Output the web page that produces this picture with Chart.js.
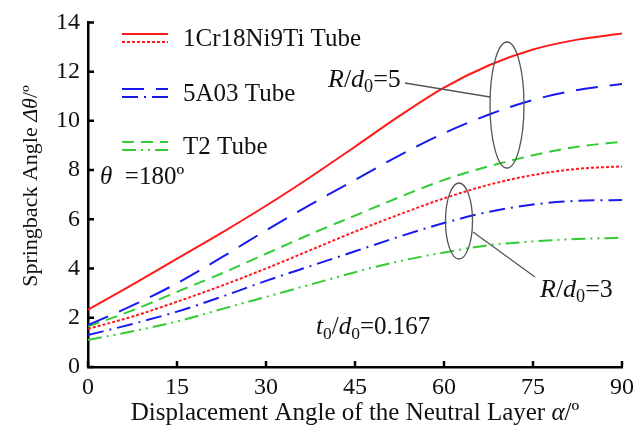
<!DOCTYPE html>
<html>
<head>
<meta charset="utf-8">
<script src="https://cdn.jsdelivr.net/npm/chart.js@4"></script>
<style>
  html, body { margin: 0; padding: 0; background: #fff; }
  #wrap { width: 640px; height: 434px; }
</style>
</head>
<body>
<div id="wrap"><canvas id="springChart" width="640" height="434"></canvas></div>
<script>
const ctx = document.getElementById('springChart').getContext('2d');

// x values (displacement angle of neutral layer, deg)
const alphaDeg = [0, 7.5, 15, 22.5, 30, 37.5, 45, 52.5, 60, 67.5, 75, 82.5, 90];

// R/d0 = 5
const crTube5 = [2.33, 3.35, 4.4, 5.45, 6.55, 7.72, 8.95, 10.2, 11.35, 12.25, 12.9, 13.3, 13.55];
const alTube5 = [1.7, 2.5, 3.4, 4.45, 5.55, 6.6, 7.6, 8.6, 9.5, 10.25, 10.85, 11.25, 11.5];
const cuTube5 = [1.65, 2.3, 3.05, 3.8, 4.6, 5.4, 6.15, 6.9, 7.6, 8.15, 8.6, 8.95, 9.15];

// R/d0 = 3
const crTube3 = [1.55, 2.05, 2.65, 3.3, 4.0, 4.75, 5.5, 6.2, 6.85, 7.4, 7.8, 8.05, 8.15];
const alTube3 = [1.3, 1.75, 2.25, 2.85, 3.5, 4.1, 4.7, 5.3, 5.85, 6.3, 6.6, 6.75, 6.78];
const cuTube3 = [1.1, 1.45, 1.85, 2.35, 2.85, 3.35, 3.85, 4.3, 4.65, 4.95, 5.1, 5.2, 5.25];

const xTicks = [0, 15, 30, 45, 60, 75, 90];
const yTicks = [0, 2, 4, 6, 8, 10, 12, 14];

const RED = '#ff1a1a';
const BLUE = '#1a1aee';
const GREEN = '#33cc33';
const SERIF = '"Liberation Serif", "Times New Roman", serif';

const dashes = {
  crTube5: [],
  crTube3: [3, 2],
  alTube5: [22, 12],
  alTube3: [16, 6, 2, 6],
  cuTube5: [12, 7],
  cuTube3: [14, 5, 2, 5, 2, 5]
};

function series(label, values, color, dash) {
  return {
    label: label,
    data: values.map((v, i) => ({ x: alphaDeg[i], y: v })),
    borderColor: color,
    borderWidth: 2,
    borderDash: dash,
    pointRadius: 0,
    fill: false,
    cubicInterpolationMode: 'monotone'
  };
}

function font(size, italic) {
  return (italic ? 'italic ' : '') + size + 'px ' + SERIF;
}

// text with italic parts and subscripts
function richText(c, parts, x, y, size, align) {
  let w = 0;
  parts.forEach(p => {
    const s = p.sub ? size * 0.7 : size;
    c.font = font(s, p.it);
    w += c.measureText(p.t).width;
  });
  let cx = align === 'center' ? x - w / 2 : x;
  c.textAlign = 'left';
  c.textBaseline = 'middle';
  parts.forEach(p => {
    const s = p.sub ? size * 0.7 : size;
    c.font = font(s, p.it);
    c.fillText(p.t, cx, p.sub ? y + size * 0.28 : y);
    cx += c.measureText(p.t).width;
  });
}

const decorations = {
  id: 'decorations',
  afterDraw(chart) {
    const c = chart.ctx;
    const xs = chart.scales.x, ys = chart.scales.y;
    const area = chart.chartArea;
    c.save();

    // inward tick marks
    c.strokeStyle = '#000';
    c.lineWidth = 2.5;
    c.beginPath();
    xTicks.forEach(v => {
      const p = xs.getPixelForValue(v);
      c.moveTo(p, area.bottom);
      c.lineTo(p, area.bottom - 6);
    });
    yTicks.forEach(v => {
      const p = ys.getPixelForValue(v);
      c.moveTo(area.left, p);
      c.lineTo(area.left + 6, p);
    });
    c.stroke();

    c.fillStyle = '#111';
    // axis titles
    richText(c, [{ t: 'Displacement Angle of the Neutral Layer ' }, { t: 'α', it: true }, { t: '/º' }],
      (area.left + area.right) / 2, 413, 25, 'center');
    c.save();
    c.translate(31, 186);
    c.rotate(-Math.PI / 2);
    richText(c, [{ t: 'Springback Angle ' }, { t: 'Δθ', it: true }, { t: '/º' }], 0, 0, 22, 'center');
    c.restore();

    // legend: two line samples per material
    const legend = [
      { text: '1Cr18Ni9Ti Tube', color: RED, a: dashes.crTube5, b: dashes.crTube3, y: 34 },
      { text: '5A03 Tube', color: BLUE, a: dashes.alTube5, b: dashes.alTube3, y: 89 },
      { text: 'T2 Tube', color: GREEN, a: dashes.cuTube5, b: dashes.cuTube3, y: 142 }
    ];
    legend.forEach(e => {
      c.strokeStyle = e.color;
      c.lineWidth = 2;
      [[e.a, e.y], [e.b, e.y + 8]].forEach(([d, y]) => {
        c.setLineDash(d);
        c.beginPath();
        c.moveTo(122, y);
        c.lineTo(168, y);
        c.stroke();
      });
      c.setLineDash([]);
      c.fillStyle = '#111';
      c.font = font(25, false);
      c.textAlign = 'left';
      c.textBaseline = 'middle';
      c.fillText(e.text, 183, e.y + 5);
    });

    // annotations
    richText(c, [{ t: 'θ', it: true }, { t: '  =180º' }], 100, 177, 25, 'left');
    richText(c, [{ t: 'R', it: true }, { t: '/' }, { t: 'd', it: true }, { t: '0', sub: true }, { t: '=5' }], 328, 80, 26, 'left');
    richText(c, [{ t: 'R', it: true }, { t: '/' }, { t: 'd', it: true }, { t: '0', sub: true }, { t: '=3' }], 540, 290, 26, 'left');
    richText(c, [{ t: 't', it: true }, { t: '0', sub: true }, { t: '/' }, { t: 'd', it: true }, { t: '0', sub: true }, { t: '=0.167' }], 316, 327, 25, 'left');

    // ellipses and leader lines
    c.strokeStyle = '#555';
    c.lineWidth = 1.3;
    c.beginPath();
    c.ellipse(507, 105, 17, 63, 0, 0, Math.PI * 2);
    c.stroke();
    c.beginPath();
    c.ellipse(459, 221, 13.5, 38, 0, 0, Math.PI * 2);
    c.stroke();
    c.beginPath();
    c.moveTo(405, 83);
    c.lineTo(490, 97);
    c.moveTo(473, 232);
    c.lineTo(535, 277);
    c.stroke();

    c.restore();
  }
};

new Chart(ctx, {
  type: 'line',
  data: {
    datasets: [
      series('1Cr18Ni9Ti R/d0=5', crTube5, RED, dashes.crTube5),
      series('5A03 R/d0=5', alTube5, BLUE, dashes.alTube5),
      series('T2 R/d0=5', cuTube5, GREEN, dashes.cuTube5),
      series('1Cr18Ni9Ti R/d0=3', crTube3, RED, dashes.crTube3),
      series('5A03 R/d0=3', alTube3, BLUE, dashes.alTube3),
      series('T2 R/d0=3', cuTube3, GREEN, dashes.cuTube3)
    ]
  },
  options: {
    responsive: false,
    animation: false,
    layout: { padding: { left: 0, right: 14, top: 18, bottom: 0 } },
    plugins: { legend: { display: false }, tooltip: { enabled: false } },
    scales: {
      x: {
        type: 'linear',
        min: 0,
        max: 90,
        afterBuildTicks: s => { s.ticks = xTicks.map(v => ({ value: v })); },
        afterFit: s => { s.height = 67; },
        grid: { display: true, drawOnChartArea: false, drawTicks: false },
        border: { color: '#000', width: 2.5 },
        ticks: { color: '#111', padding: 6, maxRotation: 0, font: { family: SERIF, size: 24 } }
      },
      y: {
        min: 0,
        max: 14,
        afterBuildTicks: s => { s.ticks = yTicks.map(v => ({ value: v })); },
        afterFit: s => { s.width = 88; },
        grid: { display: true, drawOnChartArea: false, drawTicks: false },
        border: { color: '#000', width: 2.5 },
        ticks: { color: '#111', padding: 8, font: { family: SERIF, size: 24 } }
      }
    }
  },
  plugins: [decorations]
});
</script>
</body>
</html>
